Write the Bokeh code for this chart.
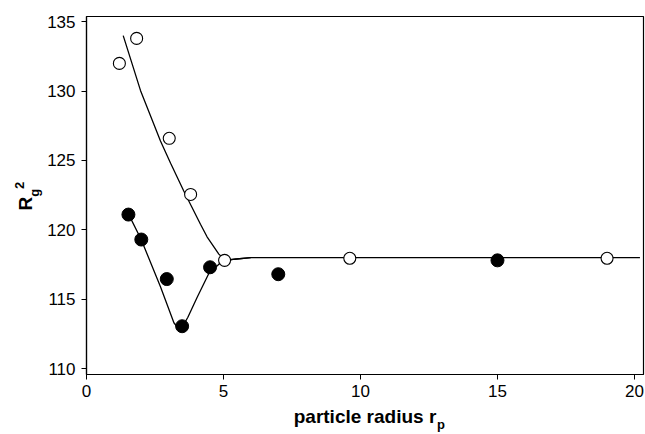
from bokeh.plotting import figure
from bokeh.models import Range1d, FixedTicker, LinearAxis
from bokeh.embed import file_html
from bokeh.resources import INLINE

# ---- data ----
open_x = [1.20, 1.83, 3.02, 3.80, 5.04, 9.61, 19.0]
open_y = [132.0, 133.8, 126.6, 122.55, 117.8, 117.95, 117.95]

filled_x = [1.53, 2.0, 2.93, 3.49, 4.51, 7.0, 15.0]
filled_y = [121.1, 119.3, 116.45, 113.05, 117.3, 116.8, 117.8]

open_fit_x = [1.34, 1.70, 1.97, 2.70, 3.07, 3.55, 4.16, 4.40, 4.83, 5.05, 5.4, 6.0, 8.0, 20.2]
open_fit_y = [134.0, 131.75, 130.05, 126.4, 124.8, 122.8, 120.4, 119.5, 118.25, 117.85, 117.88, 118.0, 118.0, 118.0]

filled_fit_x = [1.53, 2.0, 2.70, 3.19, 3.35, 3.50, 3.70, 4.04, 4.46, 4.89, 5.37, 6.0]
filled_fit_y = [121.15, 119.28, 115.9, 113.3, 112.9, 113.0, 113.7, 115.14, 116.83, 117.62, 117.88, 118.0]

x_ticks = [0, 5, 10, 15, 20]
y_ticks = [110, 115, 120, 125, 130, 135]

x_title = "particle radius r"
x_title_sub = "p"
y_title = "R"
y_title_sub = "g"
y_title_sup = "2"

FONT = "Liberation Sans"

p = figure(width=645, height=434, output_backend="svg", toolbar_location=None,
           x_range=Range1d(0, 20.33), y_range=Range1d(109.57, 135.38),
           min_border_left=86, min_border_right=2, min_border_top=16, min_border_bottom=60)

p.grid.visible = False
p.background_fill_color = "white"
p.border_fill_color = "white"
p.outline_line_color = "black"
p.outline_line_width = 1.2

for ax, ticks in ((p.xaxis[0], x_ticks), (p.yaxis[0], y_ticks)):
    ax.ticker = FixedTicker(ticks=ticks)
    ax.minor_tick_line_color = None
    ax.major_tick_in = 0
    ax.major_tick_out = 5
    ax.major_tick_line_color = "black"
    ax.axis_line_color = "black"
    ax.axis_line_width = 1.2
    ax.major_label_text_font = FONT
    ax.major_label_text_font_size = "17px"
    ax.major_label_text_color = "black"
p.xaxis[0].major_label_standoff = 5
p.yaxis[0].major_label_standoff = 6

# main x title
p.xaxis[0].axis_label = x_title
p.xaxis[0].axis_label_text_font = FONT
p.xaxis[0].axis_label_text_font_style = "bold"
p.xaxis[0].axis_label_text_font_size = "19px"
p.xaxis[0].axis_label_text_color = "black"
p.xaxis[0].axis_label_standoff = 6


def text_axis(pos, text, size, standoff, vertical=False):
    ax = LinearAxis(ticker=FixedTicker(ticks=[pos]),
                    major_label_overrides={pos: text},
                    axis_line_color=None, major_tick_line_color=None,
                    minor_tick_line_color=None, major_tick_in=0, major_tick_out=0,
                    major_label_standoff=standoff,
                    major_label_text_font=FONT, major_label_text_font_style="bold",
                    major_label_text_font_size=size, major_label_text_color="black")
    if vertical:
        ax.major_label_orientation = "vertical"
    return ax


# subscript of the x title
p.add_layout(text_axis(12.94, x_title_sub, "13px", -13), "below")
# y title pieces (R, subscript g, superscript 2)
p.add_layout(text_axis(122.67, y_title_sub, "13px", 2, True), "left")
p.add_layout(text_axis(121.89, y_title, "19px", -12, True), "left")
p.add_layout(text_axis(123.21, y_title_sup, "13px", -12, True), "left")

# fitted curves
p.line(open_fit_x, open_fit_y, line_color="black", line_width=1.3)
p.line(filled_fit_x, filled_fit_y, line_color="black", line_width=1.3)

# data points
p.scatter(open_x, open_y, marker="circle", size=12, fill_color="white",
          line_color="black", line_width=1.1)
p.scatter(filled_x, filled_y, marker="circle", size=13, fill_color="black",
          line_color="black")

open("out.html", "w").write(file_html(p, INLINE))
